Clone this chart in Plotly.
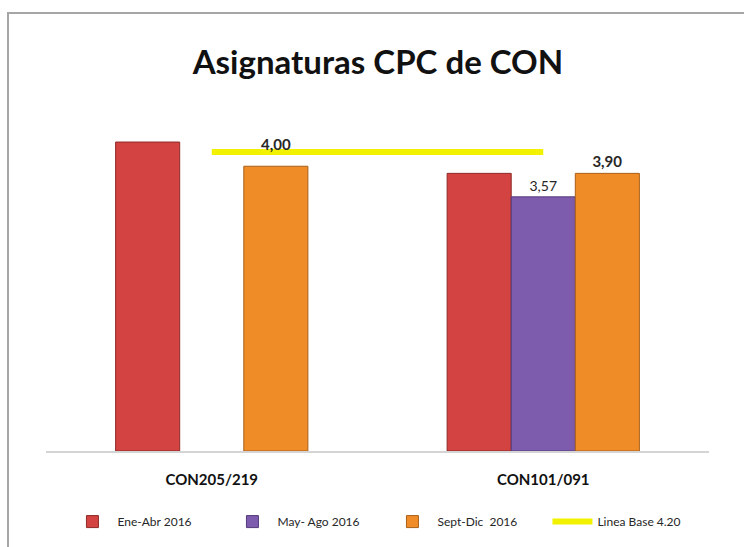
import plotly.graph_objects as go

categories = ["CON205/219", "CON101/091"]
ene_abr = [4.34, 3.90]
may_ago = [None, 3.57]
sept_dic = [4.00, 3.90]
linea_base = [4.20, 4.20]

# data labels shown in the source (only some bars are labelled)
labels_may = ["", "3,57"]
labels_sept = ["", "<b>3,90</b>"]
label_sept_first = "<b>4,00</b>"   # sits above the base line, placed separately

FONT = "Lato, 'Open Sans', sans-serif"

fig = go.Figure()

fig.add_trace(go.Bar(
    x=categories, y=ene_abr, name="Ene-Abr 2016",
    marker=dict(color="#d24341", line=dict(color="#8e2a28", width=1)),
))
fig.add_trace(go.Bar(
    x=categories, y=may_ago, name="May- Ago 2016",
    marker=dict(color="#7d5cae", line=dict(color="#533a7a", width=1)),
    text=labels_may, textposition="outside",
    textfont=dict(size=14, color="#262626", family=FONT),
    cliponaxis=False,
))
fig.add_trace(go.Bar(
    x=categories, y=sept_dic, name="Sept-Dic  2016",
    marker=dict(color="#f08c28", line=dict(color="#a8601a", width=1)),
    text=labels_sept, textposition="outside",
    textfont=dict(size=15, color="#262626", family=FONT),
    cliponaxis=False,
))
fig.add_trace(go.Scatter(
    x=categories, y=linea_base, name="Linea Base 4.20",
    mode="lines", line=dict(color="#f2f200", width=6),
))

fig.add_annotation(
    x=categories[0], y=sept_dic[0], text=label_sept_first,
    showarrow=False, xshift=64, yshift=22,
    font=dict(size=15, color="#262626", family=FONT),
)

# frame of the original (cropped) chart area
fig.add_shape(
    type="rect", xref="paper", yref="paper",
    x0=-0.0573, x1=1.08, y0=-0.32, y1=1.2845,
    line=dict(color="#a6a6a6", width=2), fillcolor="rgba(0,0,0,0)", layer="below",
)

fig.update_layout(
    width=744, height=547,
    paper_bgcolor="white", plot_bgcolor="white",
    font=dict(family=FONT, color="#262626"),
    title=dict(
        text="<b>Asignaturas CPC de CON</b>",
        font=dict(size=33, color="#111111", family=FONT),
        x=0.508, xanchor="center", y=0.885, yanchor="middle",
    ),
    barmode="group", bargap=0.42, bargroupgap=0,
    xaxis=dict(
        showline=True, linecolor="#d4d4d4", linewidth=2,
        showgrid=False, ticks="", ticklabelstandoff=14,
        tickfont=dict(size=15, color="#111111", family=FONT),
        tickprefix="<b>", ticksuffix="</b>",
    ),
    yaxis=dict(range=[0, 4.79], visible=False, showgrid=False),
    legend=dict(
        orientation="h", x=0.515, xanchor="center", y=-0.207, yanchor="middle",
        font=dict(size=12, color="#262626", family=FONT),
        itemwidth=40, traceorder="normal",
        entrywidth=105, entrywidthmode="pixels",
    ),
    margin=dict(l=46, r=35, t=110, b=96, autoexpand=False),
    showlegend=True,
    hovermode=False,
)

fig.write_html(
    "out.html",
    config={"displayModeBar": False},
    post_script="document.body.style.margin='0';document.body.style.overflow='hidden';",
)
